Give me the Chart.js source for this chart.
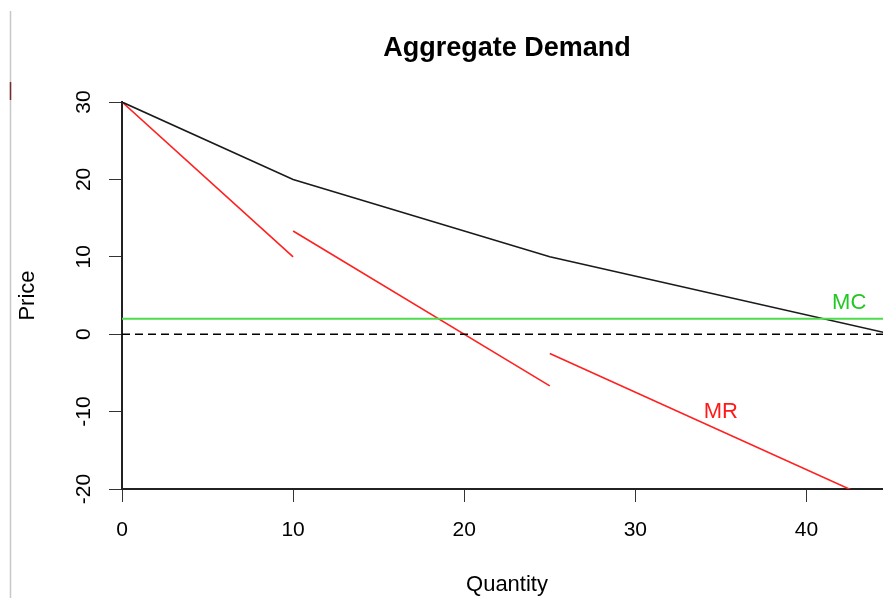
<!DOCTYPE html>
<html>
<head>
<meta charset="utf-8">
<script src="https://cdn.jsdelivr.net/npm/chart.js@4"></script>
<style>
  html, body { margin: 0; padding: 0; background: #fff; overflow: hidden; }
  #wrap { width: 892px; height: 598px; }
</style>
</head>
<body>
<div id="wrap"><canvas id="chart" width="892" height="598"></canvas></div>
<script>
// ─── Data ────────────────────────────────────────
const demandQ = [0, 10, 25, 45];
const demandP = [30, 20, 10, 0];

const mr1Q = [0, 10];
const mr1P = [30, 10];
const mr2Q = [10, 25];
const mr2P = [13.33, -6.67];
const mr3Q = [25, 45];
const mr3P = [-2.5, -22.5];

const mcQ = [0, 45];
const mcP = [2, 2];

const zeroQ = [0, 45];
const zeroP = [0, 0];

const xTicks = [0, 10, 20, 30, 40];
const yTicks = [-20, -10, 0, 10, 20, 30];

const FONT = "'Liberation Sans', Arial, Helvetica, sans-serif";

function pts(qs, ps) {
  return qs.map((q, i) => ({ x: q, y: ps[i] }));
}

function lineSet(qs, ps, color, width, dash) {
  return {
    data: pts(qs, ps),
    showLine: true,
    borderColor: color,
    borderWidth: width,
    borderDash: dash || [],
    pointRadius: 0,
    tension: 0,
    fill: false,
  };
}

// ─── Extra text (title, rotated y labels, curve labels) ──
const annotate = {
  id: 'annotate',
  afterDraw(chart) {
    const { ctx } = chart;
    const x = chart.scales.x;
    const y = chart.scales.y;
    ctx.save();

    // window edge artefact
    ctx.strokeStyle = '#c8c8c8';
    ctx.lineWidth = 1.5;
    ctx.beginPath();
    ctx.moveTo(10.5, 11);
    ctx.lineTo(10.5, 598);
    ctx.stroke();
    ctx.strokeStyle = '#7a2a2a';
    ctx.beginPath();
    ctx.moveTo(10.5, 82);
    ctx.lineTo(10.5, 100);
    ctx.stroke();

    // title
    ctx.fillStyle = '#000';
    ctx.font = `bold 27px ${FONT}`;
    ctx.textAlign = 'center';
    ctx.textBaseline = 'alphabetic';
    ctx.fillText('Aggregate Demand', x.getPixelForValue(22.5), 56);

    // y tick labels, rotated like base R
    ctx.font = `21px ${FONT}`;
    ctx.textBaseline = 'middle';
    yTicks.forEach(v => {
      ctx.save();
      ctx.translate(83, y.getPixelForValue(v));
      ctx.rotate(-Math.PI / 2);
      ctx.fillText(String(v), 0, 1);
      ctx.restore();
    });

    // curve labels
    ctx.font = `22px ${FONT}`;
    ctx.fillStyle = '#22c822';
    ctx.fillText('MC', x.getPixelForValue(42.5), y.getPixelForValue(4));
    ctx.fillStyle = '#ff1a1a';
    ctx.fillText('MR', x.getPixelForValue(35), y.getPixelForValue(-10));

    ctx.restore();
  },
};

new Chart(document.getElementById('chart'), {
  type: 'scatter',
  data: {
    datasets: [
      lineSet(zeroQ, zeroP, '#000', 1.5, [8, 5]),
      lineSet(mcQ, mcP, '#4ddc4d', 2),
      lineSet(demandQ, demandP, '#1a1a1a', 1.6),
      lineSet(mr1Q, mr1P, '#ff2020', 1.6),
      lineSet(mr2Q, mr2P, '#ff2020', 1.6),
      lineSet(mr3Q, mr3P, '#ff2020', 1.6),
    ],
  },
  options: {
    responsive: false,
    animation: false,
    layout: { padding: { top: 102, left: 0, right: 0, bottom: 0 } },
    plugins: {
      legend: { display: false },
      tooltip: { enabled: false },
      title: { display: false },
    },
    scales: {
      x: {
        type: 'linear',
        min: 0,
        max: 45,
        afterBuildTicks: s => { s.ticks = xTicks.map(v => ({ value: v })); },
        afterFit: s => { s.height = 109; },
        grid: { drawOnChartArea: false, drawTicks: true, tickLength: 13, color: '#333', lineWidth: 1 },
        border: { display: true, color: '#222', width: 2 },
        ticks: { color: '#000', font: { family: FONT, size: 21 }, padding: 16, maxRotation: 0 },
        title: { display: true, text: 'Quantity', color: '#000', font: { family: FONT, size: 22 }, padding: { top: 0, bottom: 0 } },
      },
      y: {
        type: 'linear',
        min: -20,
        max: 30,
        afterBuildTicks: s => { s.ticks = yTicks.map(v => ({ value: v })); },
        afterFit: s => { s.width = 122; },
        grid: { drawOnChartArea: false, drawTicks: true, tickLength: 13, color: '#333', lineWidth: 1 },
        border: { display: true, color: '#222', width: 2 },
        ticks: { display: false },
        title: { display: true, text: 'Price', color: '#000', font: { family: FONT, size: 22 }, padding: { top: 15, bottom: 0 } },
      },
    },
  },
  plugins: [annotate],
});
</script>
</body>
</html>
